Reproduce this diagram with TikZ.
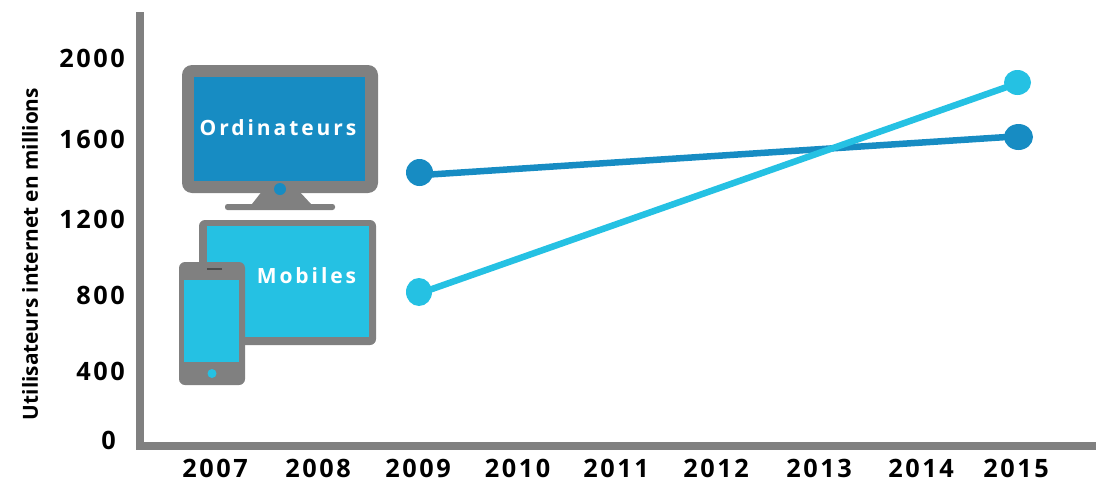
\documentclass[tikz,border=0pt]{standalone}
\usepackage{fontspec}
\usetikzlibrary{shapes.geometric}
\setmainfont{Open Sans}[BoldFont=* Bold]
\newfontfamily\spaced{Open Sans}[BoldFont=* Bold,LetterSpace=10]
\newfontfamily\spacedw{Open Sans}[BoldFont=* Bold,LetterSpace=14]
\definecolor{gr}{HTML}{808080}
\definecolor{db}{HTML}{178CC3}
\definecolor{lb}{HTML}{25C1E3}
\tikzset{
 x=1pt,y=-1pt,
 tick/.style={inner sep=0,font=\fontsize{25.3}{28}\selectfont\bfseries\spaced,text=black},
 lab/.style={inner sep=0,font=\fontsize{21}{24}\selectfont\bfseries\spacedw,text=white},
 ylab/.style={inner sep=0,font=\fontsize{20.8}{24}\selectfont\bfseries,text=black,rotate=90},
 dotd/.style={ellipse,fill=db,inner sep=0},
 dotl/.style={ellipse,fill=lb,inner sep=0},
 ser/.style={line width=6.5pt},
 case/.style={fill=gr},
}
\begin{document}
\begin{tikzpicture}
\useasboundingbox (0,0) rectangle (1112,485);
% axes
\fill[gr] (136,12) rectangle (144,450);
\fill[gr] (136,442) rectangle (1096,450);
% y ticks
\foreach \n/\v/\y in {a/2000/58.3,b/1600/139.3,c/1200/219.3,d/800/295.3,e/400/371.3}
  \node[tick,anchor=east] (y\n) at (125,\y) {\v};
\node[tick,anchor=east] (yf) at (116,440) {0};
\node[ylab] (yl) at (30,254) {Utilisateurs internet en millions};
% x ticks
\foreach \v/\x in {2007/215,2008/318,2009/418,2010/517.5,2011/616,2012/716,2013/819,2014/921,2015/1016}
  \node[tick] (x\v) at (\x,468) {\v};
% monitor
\fill[case,rounded corners=10pt] (182,65) rectangle (378,193);
\fill[case] (263,190) -- (298,190) -- (311,204) -- (252,204) -- cycle;
\fill[case,rounded corners=2.5pt] (225,204) rectangle (335,210);
\node[fill=db,minimum width=171pt,minimum height=104pt,inner sep=0,anchor=north west] (ordbox) at (194,77) {};
\node[lab] (ord) at (278,128) {Ordinateurs};
\fill[db] (280,189) circle (6);
% tablet
\fill[case,rounded corners=6pt] (199,220) rectangle (376,345);
\node[fill=lb,minimum width=162pt,minimum height=111pt,inner sep=0,anchor=north west] (tab) at (207,226) {};
\node[lab] (mob) at (306.5,276) {Mobiles};
% phone
\fill[case,rounded corners=6pt] (179,262) rectangle (245,385);
\node[fill=lb,minimum width=55pt,minimum height=82pt,inner sep=0,anchor=north west] (ph) at (184,280) {};
\fill[gr!60!black] (207,268) rectangle (222,270);
\fill[lb] (212,373.5) circle (4.5);
% series
\node[dotd,minimum width=27pt,minimum height=27pt] (d1) at (419.5,172.5) {};
\node[dotd,minimum width=29pt,minimum height=26pt] (d2) at (1018.5,137) {};
\node[dotl,minimum width=26pt,minimum height=28pt] (l1) at (419,292) {};
\node[dotl,minimum width=27pt,minimum height=25pt] (l2) at (1017.5,82.5) {};
\draw[ser,db] ([yshift=-2pt,xshift=-3pt]d1.east) -- ([xshift=3pt]d2.west);
\draw[ser,lb] ([yshift=2pt,xshift=-3pt]l1.east) -- ([yshift=-4.5pt,xshift=3pt]l2.west);
\end{tikzpicture}
\end{document}
